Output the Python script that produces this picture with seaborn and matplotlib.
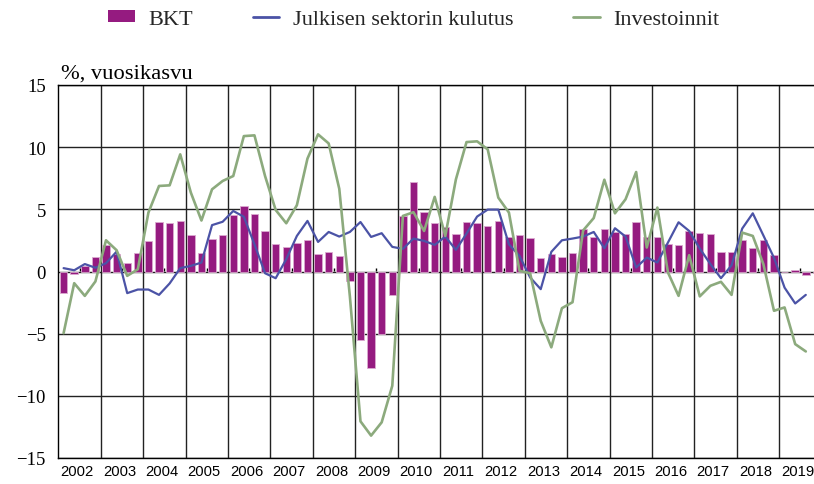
import matplotlib
matplotlib.use("Agg")
import matplotlib.pyplot as plt
import seaborn as sns
from matplotlib.patches import Patch
from matplotlib.lines import Line2D

# --- DATA (% y/y, quarterly) ---
vuodet = list(range(2002, 2020))

bkt = [
    -1.7, -0.2, 0.45, 1.2,      # 2002
    2.1, 1.4, 0.7, 1.45,        # 2003
    2.45, 4.0, 3.9, 4.05,       # 2004
    2.95, 1.5, 2.6, 2.95,       # 2005
    4.55, 5.25, 4.65, 3.25,     # 2006
    2.2, 2.0, 2.3, 2.5,         # 2007
    1.4, 1.55, 1.25, -0.75,     # 2008
    -5.5, -7.75, -5.05, -1.85,  # 2009
    4.5, 7.2, 4.8, 3.9,         # 2010
    3.6, 3.0, 4.0, 3.9,         # 2011
    3.65, 4.1, 2.8, 2.9,        # 2012
    2.7, 1.1, 1.4, 1.15,        # 2013
    1.45, 3.4, 2.8, 3.4,        # 2014
    3.15, 3.05, 3.95, 2.75,     # 2015
    2.8, 2.2, 2.1, 3.25,        # 2016
    3.1, 3.05, 1.6, 1.6,        # 2017
    2.5, 1.9, 2.55, 1.35,       # 2018
    0.0, 0.1, -0.25, -0.1,      # 2019
]

julkinen = [
    0.27, 0.1, 0.6, 0.3,
    0.67, 1.6, -1.74, -1.45,
    -1.45, -1.88, -0.96, 0.27,
    0.45, 0.72, 3.73, 4.0,
    4.87, 4.4, 2.19, -0.14,
    -0.54, 0.99, 2.86, 4.07,
    2.38, 3.18, 2.81, 3.18,
    3.98, 2.78, 3.08, 1.98,
    1.82, 2.65, 2.46, 2.14,
    2.81, 1.74, 3.05, 4.42,
    4.98, 4.98, 2.19, 1.25,
    -0.48, -1.42, 1.58, 2.51,
    2.65, 2.81, 3.18, 1.87,
    3.48, 2.81, 0.32, 1.12,
    0.72, 2.33, 3.96, 3.26,
    1.85, 0.6, -0.54, 0.5,
    3.45, 4.68, 2.9, 1.1,
    -1.3, -2.57, -1.88,
]

investoinnit = [
    -4.96, -0.94, -1.96, -0.8,
    2.51, 1.71, -0.35, 0.18,
    4.74, 6.88, 6.93, 9.42,
    6.35, 4.1, 6.61, 7.28,
    7.68, 10.89, 10.95, 7.68,
    4.95, 3.88, 5.33, 9.08,
    11.03, 10.3, 6.65, -2.0,
    -12.05, -13.2, -12.13, -9.19,
    4.47, 4.77, 3.26, 6.0,
    2.86, 7.41, 10.41, 10.47,
    9.82, 5.94, 4.74, 0.05,
    -0.14, -3.97, -6.1, -2.95,
    -2.47, 3.3, 4.3, 7.38,
    4.68, 5.81, 8.0, 1.93,
    5.14, -0.08, -1.96, 1.31,
    -2.0, -1.15, -0.83, -1.88,
    3.13, 2.86, 0.59, -3.16,
    -2.89, -5.84, -6.43,
]

# quarter midpoints as fractional years
neljannekset = [v + (q + 0.5) / 4 for v in vuodet for q in range(4)]
x_bkt = neljannekset[:len(bkt)]
x_lines = neljannekset[:len(julkinen)]

PURPLE = "#951b80"
BLUE = "#4b53a6"
GREEN = "#8caa7d"
GRID = "#222222"

sns.set_theme(style="white")
plt.rcParams["font.family"] = ["Liberation Serif", "DejaVu Serif"]
plt.rcParams["axes.unicode_minus"] = True

fig = plt.figure(figsize=(8.14, 4.85), dpi=100)
ax = fig.add_axes([58.3 / 814, 26 / 485, 763.4 / 814, 373 / 485])
ax.set_axisbelow(True)

sns.barplot(x=x_bkt, y=bkt, native_scale=True, width=0.7, color=PURPLE,
            saturation=1, edgecolor="#dcaad0", linewidth=0.6,
            errorbar=None, ax=ax)
sns.lineplot(x=x_lines, y=julkinen, color=BLUE, linewidth=1.6, ax=ax)
sns.lineplot(x=x_lines, y=investoinnit, color=GREEN, linewidth=1.9, ax=ax)

ax.set_xlim(2002, 2020)
ax.set_ylim(-15, 15)
ax.set_yticks(range(-15, 16, 5))
# year labels sit a touch left of the year middle, as in the original
ax.set_xticks([v + 0.44 for v in vuodet])
ax.set_xticklabels([str(v) for v in vuodet], fontfamily="Liberation Sans",
                   fontsize=10.6)
ax.set_xticks(vuodet[1:], minor=True)
ax.set_xlabel("")
ax.set_ylabel("")

ax.grid(False)
ax.grid(True, which="minor", axis="x", color=GRID, lw=1)
ax.grid(True, which="major", axis="y", color=GRID, lw=1)
ax.tick_params(axis="x", which="both", length=0, pad=4, colors="black")
ax.tick_params(axis="y", length=0, pad=9, labelsize=13.5, colors="black")
for s in ax.spines.values():
    s.set_color("black")
    s.set_linewidth(1)

# small marks on the zero line at mid-year
sec = ax.secondary_xaxis(0.5)
sec.set_xticks([v + 0.5 for v in vuodet])
sec.tick_params(length=2.5, width=1, color="black", labeltop=False,
                labelbottom=False)
for s in sec.spines.values():
    s.set_visible(False)

ax.text(0.003, 1.019, "%, vuosikasvu", transform=ax.transAxes,
        fontsize=16.2, ha="left", va="baseline", color="black")

handles = [
    Patch(facecolor=PURPLE, edgecolor="none", label="BKT"),
    Line2D([], [], color=BLUE, lw=2, label="Julkisen sektorin kulutus"),
    Line2D([], [], color=GREEN, lw=2, label="Investoinnit"),
]
fig.legend(handles=handles, loc="center", bbox_to_anchor=(0.508, 0.958),
           ncol=3, frameon=False, fontsize=16, handlelength=1.2,
           handleheight=0.5, handletextpad=0.6, columnspacing=2.7,
           borderpad=0)

fig.savefig("out.png", dpi=100)
